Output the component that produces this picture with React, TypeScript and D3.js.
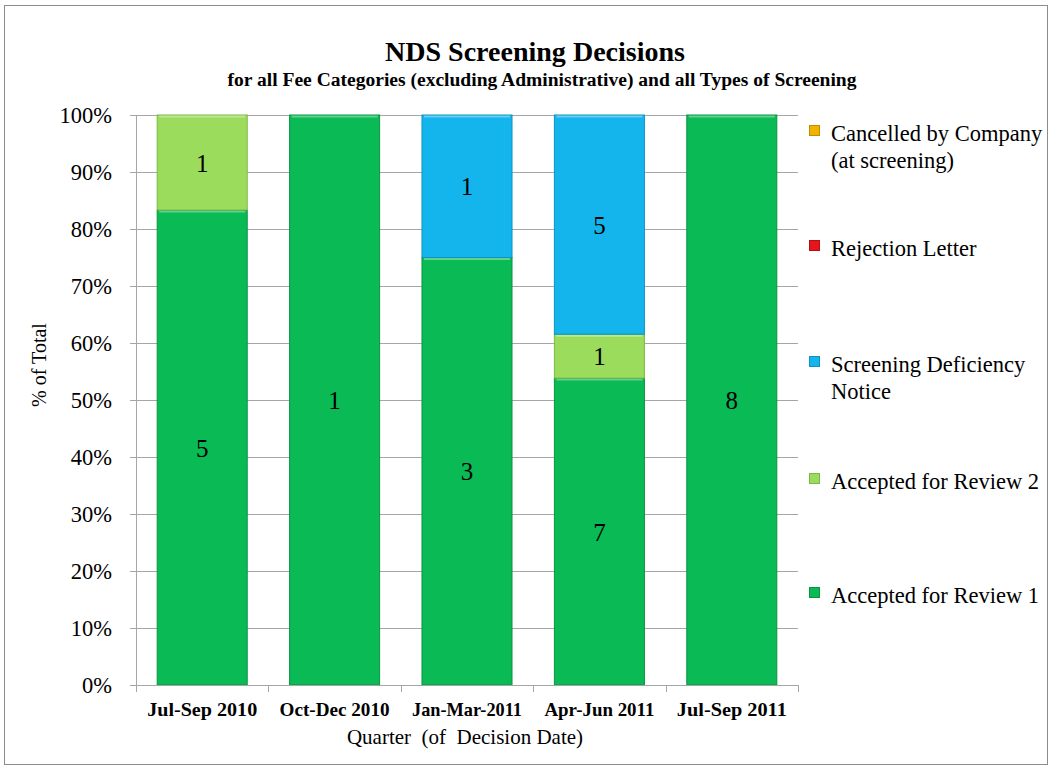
import React from "react";
import * as d3 from "d3";

const categories = ["Jul-Sep 2010", "Oct-Dec 2010", "Jan-Mar-2011", "Apr-Jun 2011", "Jul-Sep 2011"];
const seriesNames = ["Accepted for Review 1", "Accepted for Review 2", "Screening Deficiency Notice", "Rejection Letter", "Cancelled by Company (at screening)"];
const review1 = [5, 1, 3, 7, 8];
const review2 = [1, 0, 0, 1, 0];
const deficiency = [0, 0, 1, 5, 0];
const rejection = [0, 0, 0, 0, 0];
const cancelled = [0, 0, 0, 0, 0];
const colors = ["#0aba55", "#9bdc5c", "#14b5ec", "#e8141b", "#f0b400"];
const strokeColors = ["#07963f", "#7cb845", "#0e93c0", "#b30f14", "#c08f00"];
const yTicks = [0, 0.1, 0.2, 0.3, 0.4, 0.5, 0.6, 0.7, 0.8, 0.9, 1];
const legendLines: string[][] = [
  ["Cancelled by Company", "(at screening)"],
  ["Rejection Letter"],
  ["Screening Deficiency", "Notice"],
  ["Accepted for Review 2"],
  ["Accepted for Review 1"],
];
const legendColorIdx = [4, 3, 2, 1, 0];

const W = 1051, H = 769;
const left = 136, right = 798, top = 115, bottom = 685;
const FONT = "'Liberation Serif', 'Times New Roman', serif";

export default function App() {
  const seriesData = [review1, review2, deficiency, rejection, cancelled];
  const rows = categories.map((c, i) => {
    const r: any = { cat: c };
    seriesNames.forEach((s, k) => (r[s] = seriesData[k][i]));
    return r;
  });
  const stacked = d3.stack<any>().keys(seriesNames).offset(d3.stackOffsetExpand)(rows);
  const x = d3.scaleBand().domain(categories).range([left, right]).paddingInner(0.32).paddingOuter(0.16);
  const xb = d3.scaleBand().domain(categories).range([left, right]);
  const y = d3.scaleLinear().domain([0, 1]).range([bottom, top]);

  return (
    <svg width={W} height={H} style={{ position: "absolute", left: 0, top: 0, background: "#fff" }} fontFamily={FONT}>
      <rect x={4.5} y={5.5} width={1043} height={759} fill="#fff" stroke="#8c8c8c" strokeWidth={1} />
      <text x={535} y={61} textAnchor="middle" fontSize={27} fontWeight="bold" textLength={300} lengthAdjust="spacingAndGlyphs">NDS Screening Decisions</text>
      <text x={542} y={86} textAnchor="middle" fontSize={18} fontWeight="bold" textLength={629} lengthAdjust="spacingAndGlyphs">for all Fee Categories (excluding Administrative) and all Types of Screening</text>

      {yTicks.map((t) => (
        <g key={t}>
          <line x1={130} x2={right} y1={Math.round(y(t)) + 0.5} y2={Math.round(y(t)) + 0.5} stroke="#a6a6a6" strokeWidth={1} />
          <text x={112} y={y(t) + 8} textAnchor="end" fontSize={22.5}>{d3.format(".0%")(t)}</text>
        </g>
      ))}
      <line x1={left + 0.5} x2={left + 0.5} y1={top} y2={bottom} stroke="#a6a6a6" />

      {stacked.map((layer, k) => (
        <g key={k}>
          {layer.map((d, i) => {
            const h = y(d[0]) - y(d[1]);
            if (h <= 0) return null;
            const bx = x(categories[i])!;
            return (
              <g key={i}>
                <rect x={bx} y={y(d[1])} width={x.bandwidth()} height={h} fill={colors[k]} stroke={strokeColors[k]} strokeWidth={1} />
                <line x1={bx + 2} x2={bx + x.bandwidth() - 2} y1={y(d[1]) + 1.5} y2={y(d[1]) + 1.5} stroke="#ffffff" strokeOpacity={0.35} strokeWidth={2} />
              </g>
            );
          })}
        </g>
      ))}
      {stacked.map((layer, k) => (
        <g key={"l" + k}>
          {layer.map((d, i) => {
            const v = seriesData[k][i];
            if (!v) return null;
            return (
              <text key={i} x={x(categories[i])! + x.bandwidth() / 2} y={(y(d[0]) + y(d[1])) / 2 + 9} textAnchor="middle" fontSize={25}>{v}</text>
            );
          })}
        </g>
      ))}

      <line x1={left} x2={right} y1={bottom + 0.5} y2={bottom + 0.5} stroke="#a6a6a6" />
      {categories.map((c) => (
        <line key={c} x1={Math.round(xb(c)!) + 0.5} x2={Math.round(xb(c)!) + 0.5} y1={bottom} y2={bottom + 7} stroke="#a6a6a6" />
      ))}
      <line x1={right + 0.5} x2={right + 0.5} y1={bottom} y2={bottom + 7} stroke="#a6a6a6" />
      {categories.map((c) => (
        <text key={c} x={xb(c)! + xb.bandwidth() / 2} y={716} textAnchor="middle" fontSize={19} fontWeight="bold" textLength={c.length > 12 ? 123 : 110} lengthAdjust="spacingAndGlyphs">{c}</text>
      ))}
      <text x={465} y={744} textAnchor="middle" fontSize={21} style={{ whiteSpace: "pre" }}>{"Quarter  (of  Decision Date)"}</text>
      <text transform={`translate(46,365) rotate(-90)`} textAnchor="middle" fontSize={20}>% of Total</text>

      {legendLines.map((lines, j) => {
        const ys = [133, 248, 364, 481, 595][j];
        const ci = legendColorIdx[j];
        return (
          <g key={j}>
            <rect x={809.5} y={ys - 7.5} width={10} height={10} fill={colors[ci]} stroke={strokeColors[ci]} />
            {lines.map((l, li) => (
              <text key={li} x={831} y={ys + 8 + li * 27} fontSize={22.5}>{l}</text>
            ))}
          </g>
        );
      })}
    </svg>
  );
}
